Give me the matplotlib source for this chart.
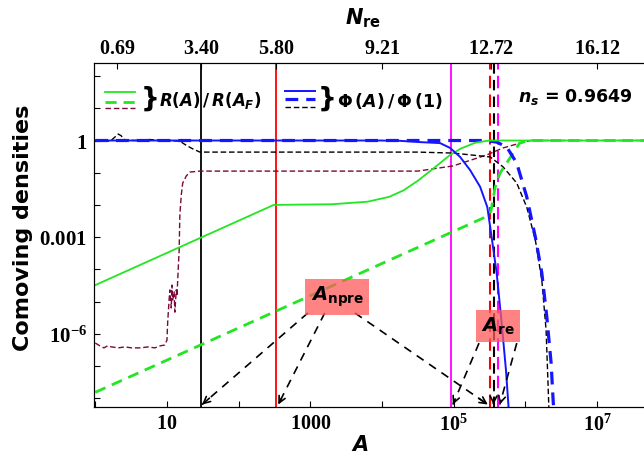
import numpy as np
import matplotlib.pyplot as plt

plt.rcParams['mathtext.fontset'] = 'custom'
plt.rcParams['mathtext.it'] = 'DejaVu Sans:italic:bold'
plt.rcParams['mathtext.rm'] = 'DejaVu Sans:bold'
plt.rcParams['mathtext.sf'] = 'DejaVu Sans:bold'
plt.rcParams['mathtext.bf'] = 'Liberation Serif:bold'

# ===== Curves (log10 A, log10 density) =====
R_SOLID_LOGA = [0.0, 2.49, 3.3, 3.8, 4.1, 4.3, 4.5, 4.7, 4.95, 5.1, 5.3, 5.5, 7.8]
R_SOLID_LOGY = [-4.49, -2.0, -1.98, -1.9, -1.75, -1.55, -1.25, -0.9, -0.45, -0.25, -0.07, 0.0, 0.0]

R_DASH_LOGA = [0.0, 5.41, 5.52, 5.58, 5.65, 5.74, 5.92, 6.05, 7.8]
R_DASH_LOGY = [-7.82, -2.41, -2.2, -1.44, -1.0, -0.7, -0.08, 0.0, 0.0]

R_THIN_LOGA = [0.0, 0.066, 0.12, 0.17, 0.23, 0.32, 0.41, 0.51, 0.62, 0.74, 0.83, 0.90,
               0.97, 1.00, 1.01, 1.03, 1.04, 1.06, 1.07, 1.08, 1.10, 1.11, 1.13, 1.14,
               1.15, 1.17, 1.18, 1.20, 1.22, 1.27, 1.32, 1.46, 4.5, 4.99, 5.46, 5.69,
               5.93, 6.07, 7.8]
R_THIN_LOGY = [-6.29, -6.38, -6.44, -6.38, -6.41, -6.44, -6.41, -6.44, -6.44, -6.41, -6.44, -6.38,
               -6.35, -6.20, -5.64, -4.95, -4.64, -5.20, -4.49, -4.95, -4.70, -5.33, -4.64, -4.83,
               -4.33, -3.40, -2.31, -1.69, -1.32, -1.10, -0.98, -0.95, -0.95, -0.79, -0.45, -0.23,
               -0.08, 0.0, 0.0]

PHI_SOLID_LOGA = [0.0, 3.97, 4.25, 4.53, 4.81, 4.95, 5.09, 5.23, 5.37, 5.47, 5.53, 5.60, 5.67, 5.73, 5.77]
PHI_SOLID_LOGY = [0.0, 0.0, -0.01, -0.05, -0.08, -0.23, -0.51, -0.92, -1.44, -2.07, -3.0, -4.11, -5.67, -7.13, -8.4]

PHI_DASH_LOGA = [0.0, 5.45, 5.60, 5.74, 5.88, 6.02, 6.14, 6.23, 6.30, 6.36, 6.39, 6.40]
PHI_DASH_LOGY = [0.0, 0.0, -0.05, -0.20, -0.70, -1.75, -3.0, -4.11, -5.48, -6.91, -8.15, -8.4]

PHI_THIN_LOGA = [0.0, 0.21, 0.32, 0.36, 0.41, 0.55, 0.76, 0.97, 1.18, 1.27, 1.36, 1.46, 1.50,
                 4.5, 4.99, 5.51, 5.69, 5.88, 6.02, 6.14, 6.23, 6.29, 6.32, 6.33]
PHI_THIN_LOGY = [-0.02, -0.02, 0.2, 0.15, 0.02, 0.0, 0.03, 0.0, -0.02, -0.15, -0.26, -0.36, -0.36,
                 -0.36, -0.39, -0.51, -0.82, -1.32, -2.07, -3.09, -4.33, -5.89, -7.75, -8.4]

# ===== Vertical markers (A values) =====
A_BLACK = np.exp(3.40)
A_RED = np.exp(5.80)
A_MAGENTA = 9.2e4
A_RED_DASH = 3.2e5
A_BLACK_DASH = 3.6e5
A_MAGENTA_DASH = 4.1e5

# ===== Axis ticks =====
X_TICKS = [1, 10, 100, 1e3, 1e4, 1e5, 1e6, 1e7]
X_LABELS = ['', r'$\mathbf{10}$', '', r'$\mathbf{1000}$', '', r'$\mathbf{10^{5}}$', '', r'$\mathbf{10^{7}}$']
Y_TICKS = [1e-8, 1e-7, 1e-6, 1e-5, 1e-4, 1e-3, 1e-2, 1e-1, 1, 10, 100]
Y_LABELS = ['', '', r'$\mathbf{10^{-6}}$', '', '', r'$\mathbf{0.001}$', '', '', r'$\mathbf{1}$', '', '']
N_TICKS = [0.69, 3.40, 5.80, 9.21, 12.72, 16.12]

GREEN = '#22e622'
BLUE = '#1515ff'
MAROON = '#7a0838'
MAGENTA = '#ff00ff'
RED = '#ff0000'


def curve(loga, logy):
    return 10 ** np.array(loga), 10 ** np.array(logy)


fig = plt.figure(figsize=(6.44, 4.66), dpi=100)
ax = fig.add_axes([94 / 644, 1 - 407 / 466, 550 / 644, 344 / 466])
ax.set_xscale('log')
ax.set_yscale('log')
ax.set_xlim(10 ** -0.018, 10 ** 7.656)
ax.set_ylim(10 ** -8.276, 10 ** 2.407)

# vertical markers
ax.axvline(A_BLACK, color='k', lw=1.3)
ax.axvline(A_RED, color=RED, lw=1.3)
ax.axvline(A_MAGENTA, color=MAGENTA, lw=1.3)
ax.axvline(A_RED_DASH, color=RED, lw=1.5, ls=(0, (6, 3)))
ax.axvline(A_MAGENTA_DASH, color=MAGENTA, lw=1.5, ls=(0, (6, 3)))
ax.axvline(A_BLACK_DASH, color='k', lw=1.5, ls=(0, (5, 3)))

# curves
ax.plot(*curve(R_THIN_LOGA, R_THIN_LOGY), color=MAROON, lw=1.0, ls=(0, (4, 2)))
ax.plot(*curve(PHI_THIN_LOGA, PHI_THIN_LOGY), color='k', lw=1.0, ls=(0, (4, 2)))
ax.plot(*curve(R_DASH_LOGA, R_DASH_LOGY), color=GREEN, lw=2.0, ls=(0, (4, 2.5)))
ax.plot(*curve(PHI_DASH_LOGA, PHI_DASH_LOGY), color=BLUE, lw=2.3, ls=(0, (4, 2.5)))
ax.plot(*curve(R_SOLID_LOGA, R_SOLID_LOGY), color=GREEN, lw=1.3)
ax.plot(*curve(PHI_SOLID_LOGA, PHI_SOLID_LOGY), color=BLUE, lw=1.4)

# annotation boxes
box = dict(boxstyle='square,pad=0.28', facecolor='#ff5a5a', edgecolor='none', alpha=0.75)
ax.text(2370, 1.38e-5, r'$A_{\mathsf{npre}}$', fontsize=14, ha='center', va='center', bbox=box)
ax.text(4.14e5, 1.74e-6, r'$A_{\mathsf{re}}$', fontsize=14, ha='center', va='center', bbox=box)

Y_TIP = 6.3e-9
ARROWS = [
    ((925, 4.4e-6), (A_BLACK * 1.03, Y_TIP)),
    ((1590, 4.4e-6), (A_RED * 1.08, Y_TIP)),
    ((4200, 4.4e-6), (3.0e5, Y_TIP)),
    ((2.26e5, 5.1e-7), (A_MAGENTA * 1.06, Y_TIP)),
    ((7.6e5, 5.1e-7), (4.4e5, Y_TIP)),
    ((A_BLACK_DASH, 1e-8 * 3), (A_BLACK_DASH, Y_TIP)),
]
for (sx, sy), (ex, ey) in ARROWS:
    ax.plot([sx, ex], [sy, ey], color='k', lw=1.2, ls=(0, (5, 4)))
    f = 0.07
    nx = 10 ** (np.log10(ex) + f * (np.log10(sx) - np.log10(ex)))
    ny = 10 ** (np.log10(ey) + f * (np.log10(sy) - np.log10(ey)))
    ax.annotate('', xy=(ex, ey), xytext=(nx, ny),
                arrowprops=dict(arrowstyle='->', color='k', lw=1.2,
                                shrinkA=0, shrinkB=0, mutation_scale=12))

# legend samples
tr = ax.transAxes
ax.plot([0.02, 0.075], [0.9157, 0.9157], color=GREEN, lw=1.3, transform=tr)
ax.plot([0.02, 0.075], [0.8866, 0.8866], color=GREEN, lw=2.0, ls=(0, (4, 2.5)), transform=tr)
ax.plot([0.02, 0.075], [0.869, 0.869], color=MAROON, lw=1.0, ls=(0, (4, 2)), transform=tr)
ax.text(0.084, 0.895, '}', fontsize=19, fontweight='bold', ha='left', va='center', transform=tr)
ax.text(0.118, 0.89, r'$R\mathsf{(}A\mathsf{)}\,/\,R\mathsf{(}A_F\mathsf{)}$', fontsize=12,
        ha='left', va='center', transform=tr)

ax.plot([0.347, 0.402], [0.9186, 0.9186], color=BLUE, lw=1.4, transform=tr)
ax.plot([0.347, 0.402], [0.8953, 0.8953], color=BLUE, lw=2.3, ls=(0, (4, 2.5)), transform=tr)
ax.plot([0.347, 0.402], [0.872, 0.872], color='k', lw=1.0, ls=(0, (4, 2)), transform=tr)
ax.text(0.407, 0.895, '}', fontsize=19, fontweight='bold', ha='left', va='center', transform=tr)
ax.text(0.442, 0.89, r'$\Phi\,(A)\,/\,\Phi\,(1)$', fontsize=12.5, ha='left', va='center', transform=tr)

ax.text(0.771, 0.901, r'$n_s$ = 0.9649', fontsize=12.5, fontweight='bold',
        ha='left', va='center', transform=tr)

# ticks
ax.set_xticks(X_TICKS)
ax.set_xticklabels(X_LABELS, fontsize=14.5)
ax.set_xticks([], minor=True)
ax.set_yticks(Y_TICKS)
ax.set_yticklabels(Y_LABELS, fontsize=15)
ax.set_yticks([], minor=True)
ax.tick_params(direction='in', length=4, width=0.8, top=False, right=False, pad=5)
ax.spines['right'].set_visible(False)

top = ax.twiny()
top.set_xscale('log')
top.set_xlim(ax.get_xlim())
top.set_xticks(np.exp(N_TICKS))
top.set_xticklabels([r'$\mathbf{%.2f}$' % n for n in N_TICKS], fontsize=14.5)
top.set_xticks([], minor=True)
top.tick_params(direction='in', length=4, width=0.8)
top.spines['right'].set_visible(False)

fig.text(0.563, 1 - 18 / 466, r'$N_{\mathsf{re}}$', fontsize=15, ha='center', va='center')
fig.text(0.56, 1 - 445 / 466, 'A', fontsize=15, fontweight='bold', style='italic',
         ha='center', va='center')
fig.text(23 / 644, 1 - 228 / 466, 'Comoving densities', fontsize=16, fontweight='bold',
         rotation=90, ha='center', va='center')

fig.savefig('out.png', dpi=100)
